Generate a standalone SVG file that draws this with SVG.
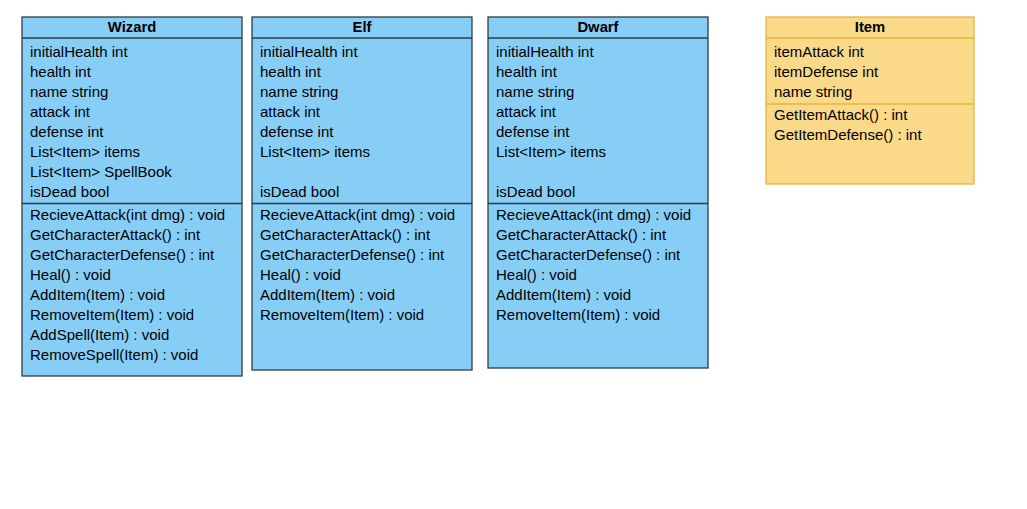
<svg xmlns="http://www.w3.org/2000/svg" width="1027" height="509" viewBox="0 0 1027 509">
<style>
.blue{fill:#87CEF7;stroke:#2F3B45;stroke-width:1.3}
.blin{stroke:#2F3B45;stroke-width:1.3}
.yel{fill:#FAD989;stroke:#E6B440;stroke-width:1.3}
.ylin{stroke:#E6B440;stroke-width:1.3}
text{font-family:"Liberation Sans",Arial,sans-serif;font-size:15px;fill:#000}
.h{font-weight:bold;text-anchor:middle;font-size:14.8px}
</style>
<rect width="1027" height="509" fill="#fff"/>
<g id="wizard">
<rect class="blue" x="22" y="17" width="220" height="359"/>
<line class="blin" x1="22" y1="38" x2="242" y2="38"/>
<line class="blin" x1="22" y1="203.5" x2="242" y2="203.5"/>
<text class="h" x="132" y="32">Wizard</text>
<text x="30" y="57">initialHealth int</text>
<text x="30" y="77">health int</text>
<text x="30" y="97">name string</text>
<text x="30" y="117">attack int</text>
<text x="30" y="137">defense int</text>
<text x="30" y="157">List&lt;Item&gt; items</text>
<text x="30" y="177">List&lt;Item&gt; SpellBook</text>
<text x="30" y="197">isDead bool</text>
<text x="30" y="220">RecieveAttack(int dmg) : void</text>
<text x="30" y="240">GetCharacterAttack() : int</text>
<text x="30" y="260">GetCharacterDefense() : int</text>
<text x="30" y="280">Heal() : void</text>
<text x="30" y="300">AddItem(Item) : void</text>
<text x="30" y="320">RemoveItem(Item) : void</text>
<text x="30" y="340">AddSpell(Item) : void</text>
<text x="30" y="360">RemoveSpell(Item) : void</text>
</g>
<g id="elf">
<rect class="blue" x="252" y="17" width="220" height="353"/>
<line class="blin" x1="252" y1="38" x2="472" y2="38"/>
<line class="blin" x1="252" y1="203.5" x2="472" y2="203.5"/>
<text class="h" x="362" y="32">Elf</text>
<text x="260" y="57">initialHealth int</text>
<text x="260" y="77">health int</text>
<text x="260" y="97">name string</text>
<text x="260" y="117">attack int</text>
<text x="260" y="137">defense int</text>
<text x="260" y="157">List&lt;Item&gt; items</text>
<text x="260" y="197">isDead bool</text>
<text x="260" y="220">RecieveAttack(int dmg) : void</text>
<text x="260" y="240">GetCharacterAttack() : int</text>
<text x="260" y="260">GetCharacterDefense() : int</text>
<text x="260" y="280">Heal() : void</text>
<text x="260" y="300">AddItem(Item) : void</text>
<text x="260" y="320">RemoveItem(Item) : void</text>
</g>
<g id="dwarf">
<rect class="blue" x="488" y="17" width="220" height="351"/>
<line class="blin" x1="488" y1="38" x2="708" y2="38"/>
<line class="blin" x1="488" y1="203.5" x2="708" y2="203.5"/>
<text class="h" x="598" y="32">Dwarf</text>
<text x="496" y="57">initialHealth int</text>
<text x="496" y="77">health int</text>
<text x="496" y="97">name string</text>
<text x="496" y="117">attack int</text>
<text x="496" y="137">defense int</text>
<text x="496" y="157">List&lt;Item&gt; items</text>
<text x="496" y="197">isDead bool</text>
<text x="496" y="220">RecieveAttack(int dmg) : void</text>
<text x="496" y="240">GetCharacterAttack() : int</text>
<text x="496" y="260">GetCharacterDefense() : int</text>
<text x="496" y="280">Heal() : void</text>
<text x="496" y="300">AddItem(Item) : void</text>
<text x="496" y="320">RemoveItem(Item) : void</text>
</g>
<g id="item">
<rect class="yel" x="766" y="17" width="208" height="167"/>
<line class="ylin" x1="766" y1="38" x2="974" y2="38"/>
<line class="ylin" x1="766" y1="104" x2="974" y2="104"/>
<text class="h" x="870" y="32">Item</text>
<text x="774" y="57">itemAttack int</text>
<text x="774" y="77">itemDefense int</text>
<text x="774" y="97">name string</text>
<text x="774" y="120">GetItemAttack() : int</text>
<text x="774" y="140">GetItemDefense() : int</text>
</g>
<g id="connectors"></g>
</svg>
